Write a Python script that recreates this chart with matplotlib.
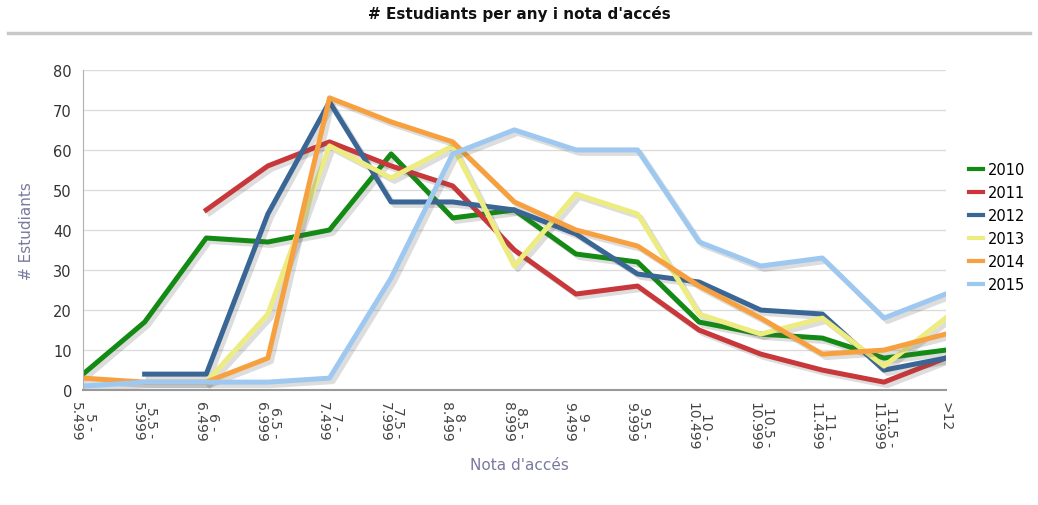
import numpy as np
import matplotlib.pyplot as plt
import matplotlib.patheffects as pe
from matplotlib.lines import Line2D

nan = np.nan
categories = ["5 -\n5.499", "5.5 -\n5.999", "6 -\n6.499", "6.5 -\n6.999", "7 -\n7.499",
              "7.5 -\n7.999", "8 -\n8.499", "8.5 -\n8.999", "9 -\n9.499", "9.5 -\n9.999",
              "10 -\n10.499", "10.5 -\n10.999", "11 -\n11.499", "11.5 -\n11.999", ">12"]

years = ["2010", "2011", "2012", "2013", "2014", "2015"]
y2010 = [4, 17, 38, 37, 40, 59, 43, 45, 34, 32, 17, 14, 13, 8, 10]
y2011 = [nan, nan, 45, 56, 62, 56, 51, 35, 24, 26, 15, 9, 5, 2, 8]
y2012 = [nan, 4, 4, 44, 72, 47, 47, 45, 39, 29, 27, 20, 19, 5, 8]
y2013 = [nan, nan, 2, 19, 61, 53, 61, 31, 49, 44, 19, 14, 18, 6, 18]
y2014 = [3, 2, 2, 8, 73, 67, 62, 47, 40, 36, 26, 18, 9, 10, 14]
y2015 = [1, 2, 2, 2, 3, 28, 59, 65, 60, 60, 37, 31, 33, 18, 24]
series = [y2010, y2011, y2012, y2013, y2014, y2015]
colors = ["#138a13", "#c8383a", "#3a6696", "#ecec80", "#f7a040", "#9ec8f0"]

fig = plt.figure(figsize=(10.38, 5.06), dpi=100)
ax = fig.add_axes([0.080, 0.227, 0.831, 0.633])

x = np.arange(len(categories))
shadow = [pe.SimpleLineShadow(offset=(2.5, -2.5), alpha=0.2, shadow_color="#555555"), pe.Normal()]
for yr, vals, c in zip(years, series, colors):
    ax.plot(x, vals, color=c, lw=3.6, label=yr, solid_joinstyle="round",
            path_effects=shadow)

ax.set_xlim(0, len(categories) - 1)
ax.set_ylim(0, 80)
ax.set_yticks(range(0, 81, 10))
ax.set_xticks(x)
ax.set_xticklabels(categories, rotation=270, fontsize=10, color="#444444",
                   linespacing=0.95)
ax.tick_params(axis="y", labelsize=10.5, colors="#333333", length=0, pad=8)
ax.tick_params(axis="x", length=0, pad=8)
ax.grid(axis="y", color="#dcdcdc", lw=1)
ax.set_axisbelow(True)
for s in ["top", "right"]:
    ax.spines[s].set_visible(False)
ax.spines["left"].set_color("#b0b0b0")
ax.spines["bottom"].set_color("#999999")
ax.spines["bottom"].set_linewidth(1.5)

ax.set_ylabel("# Estudiants", fontsize=11, color="#7a7a9e", labelpad=14)
fig.text(0.5, 0.08, "Nota d'accés", ha="center", va="center", fontsize=11, color="#7a7a9e")

fig.text(0.5, 0.972, "# Estudiants per any i nota d'accés", ha="center", va="center",
         fontsize=11, fontweight="bold", color="#111111")
fig.add_artist(Line2D([0.008, 0.992], [0.932, 0.932], color="#c8c8c8", lw=2.5,
                      transform=fig.transFigure))

leg = ax.legend(loc="center left", bbox_to_anchor=(1.015, 0.51), frameon=False,
                fontsize=10.5, handlelength=1.0, handletextpad=0.3, labelspacing=0.55,
                borderaxespad=0.3)
for h in leg.get_lines():
    h.set_linewidth(3)
    h.set_path_effects([])

fig.savefig("out.png", dpi=100)
